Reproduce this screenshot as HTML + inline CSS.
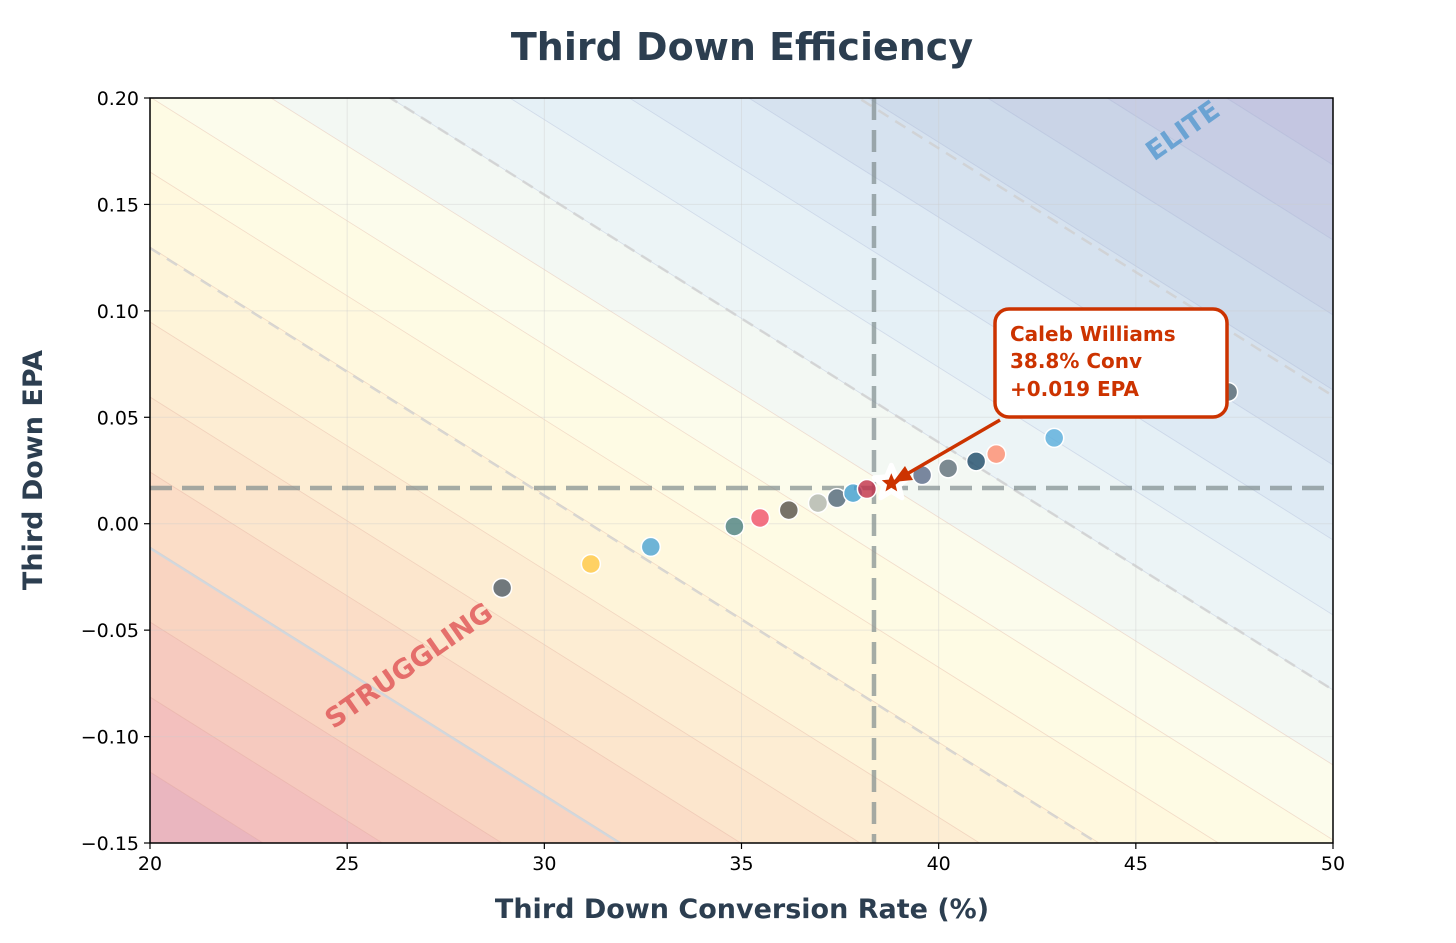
<!DOCTYPE html>
<html><head><meta charset="utf-8"><style>
html,body{margin:0;padding:0;background:#fff;width:1456px;height:943px;overflow:hidden;}
svg{display:block;}
svg text{font-family:"DejaVu Sans","Liberation Sans",sans-serif;}
</style></head><body>
<svg id="chart" width="1456" height="943" viewBox="0 0 1456 943">
<defs><clipPath id="clip"><rect x="150" y="98" width="1183" height="745"/></clipPath></defs>
<g id="bg" clip-path="url(#clip)"></g>
<g id="grid"></g>
<g id="refs"></g>
<g id="pts"></g>
<g id="axes"></g>
<text x="742" y="60" text-anchor="middle" font-size="38" font-weight="bold" fill="#2c3e50">Third Down Efficiency</text>
<text x="742" y="918" text-anchor="middle" font-size="27" font-weight="bold" fill="#2c3e50">Third Down Conversion Rate (%)</text>
<text transform="translate(42,470) rotate(-90)" text-anchor="middle" font-size="27" font-weight="bold" fill="#2c3e50">Third Down EPA</text>
<text transform="translate(1188,138) rotate(-35)" text-anchor="middle" font-size="27" font-weight="bold" fill="#5b9bd0" fill-opacity="0.85">ELITE</text>
<text transform="translate(414,673) rotate(-35)" text-anchor="middle" font-size="27" font-weight="bold" fill="#e05a5a" fill-opacity="0.85">STRUGGLING</text>
<g id="ann">
<line x1="1000" y1="420" x2="900" y2="478" stroke="#cc3300" stroke-width="3.5"/>
<polygon points="893,482 905,466 913,480" fill="#cc3300"/>
<rect x="995" y="309" width="232" height="108" rx="14" fill="#fff" stroke="#cc3300" stroke-width="3.5"/>
<text x="1010" y="341" font-size="20" font-weight="bold" fill="#cc3300">Caleb Williams</text>
<text x="1010" y="368" font-size="20" font-weight="bold" fill="#cc3300">38.8% Conv</text>
<text x="1010" y="396" font-size="20" font-weight="bold" fill="#cc3300">+0.019 EPA</text>
</g>
</svg>
<script>
const convRates=[28.93,31.18,32.7,34.82,35.47,36.2,36.94,37.42,37.83,38.18,39.58,40.24,40.95,41.46,42.93,47.34];
const epaValues=[-0.0302,-0.0189,-0.0109,-0.0013,0.0027,0.0064,0.0097,0.012,0.0144,0.0163,0.0228,0.026,0.0293,0.0327,0.0403,0.0619];
const pointColors=["#4d5a66","#ffc845","#4ba3d3","#4a8080","#f0506a","#555049","#b0b5ae","#4e6478","#3d9cd0","#c0304a","#5a6a88","#5e6e78","#1d4a68","#ff8c6e","#5aaedc","#566870"];
const highlight=[38.8,0.019];
const meanConv=38.36, meanEpa=0.0168;
const xTicks=[20,25,30,35,40,45,50];
const yTicks=[-0.15,-0.10,-0.05,0.00,0.05,0.10,0.15,0.20];
const yTickLabels=["\u22120.15","\u22120.10","\u22120.05","0.00","0.05","0.10","0.15","0.20"];
const X0=150,X1=1333,Y0=98,Y1=843;
const xs=v=>X0+(v-20)/30*(X1-X0);
const ys=v=>Y1-(v+0.15)/0.35*(Y1-Y0);
const NS="http://www.w3.org/2000/svg";
function mk(tag,attrs,parent){const e=document.createElementNS(NS,tag);for(const k in attrs)e.setAttribute(k,attrs[k]);parent.appendChild(e);return e;}
const stops=[[-700,[192,190,222]],[-400,[205,218,234]],[-200,[226,238,246]],[-53,[239,246,246]],[60,[252,252,236]],[150,[255,251,226]],[300,[254,243,216]],[450,[252,228,204]],[600,[249,210,192]],[750,[242,190,190]],[860,[228,176,192]]];
function col(t){for(let i=0;i<stops.length-1;i++){const a=stops[i],b=stops[i+1];if(t<=b[0]){const f=Math.max(0,(t-a[0])/(b[0]-a[0]));return "rgb("+a[1].map((c,j)=>Math.round(c+(b[1][j]-c)*f)).join(",")+")";}}return "rgb(228,176,192)";}
const bg=document.getElementById('bg');
const slope=0.628, dy=slope*(X1-X0);
for(let t=-728;t<900;t+=75){
 const p=mk('polygon',{points:`${X0},${t} ${X1},${t+dy} ${X1},${t+75+dy} ${X0},${t+75}`,fill:col(t+37)},bg);
 
 
 const l=mk('line',{x1:X0,y1:t,x2:X1,y2:t+dy,stroke:(t<0?'#8090c0':'#d08070'),'stroke-opacity':0.25,'stroke-width':0.8},bg);
 
 
}
[-347,-53,248,548].forEach((t,i)=>{
 const l=mk('line',{x1:X0,y1:t,x2:X1,y2:t+dy,stroke:(i==3?'#c8d8e4':'#cfcfcf'),'stroke-width':2.5,'stroke-dasharray':i==3?'none':'12,8','stroke-opacity':0.8},bg);
 
 
});
const grid=document.getElementById('grid');
xTicks.forEach(v=>{const l=mk('line',{x1:xs(v),y1:Y0,x2:xs(v),y2:Y1,stroke:'#ccc','stroke-opacity':0.4,'stroke-width':1},grid);});
yTicks.forEach(v=>{const l=mk('line',{x1:X0,y1:ys(v),x2:X1,y2:ys(v),stroke:'#ccc','stroke-opacity':0.4,'stroke-width':1},grid);});
const refs=document.getElementById('refs');
let r1=mk('line',{x1:xs(meanConv),y1:Y0,x2:xs(meanConv),y2:Y1,stroke:'#7f8c8d','stroke-opacity':0.7,'stroke-width':4.5,'stroke-dasharray':'22,10'},refs);


let r2=mk('line',{x1:X0,y1:ys(meanEpa),x2:X1,y2:ys(meanEpa),stroke:'#7f8c8d','stroke-opacity':0.7,'stroke-width':4.5,'stroke-dasharray':'22,10'},refs);


const pts=document.getElementById('pts');
convRates.forEach((v,i)=>{
 const c=mk('circle',{cx:xs(v),cy:ys(epaValues[i]),r:9.5,fill:pointColors[i],'fill-opacity':0.8,stroke:'#fff','stroke-width':1.5},pts);
 
 
});
function starPts(cx,cy,R,r){let s=[];for(let i=0;i<10;i++){const a=-Math.PI/2+i*Math.PI/5,rad=i%2?r:R;s.push((cx+rad*Math.cos(a)).toFixed(1)+","+(cy+rad*Math.sin(a)).toFixed(1));}return s.join(" ");}
const sx=xs(highlight[0]),sy=ys(highlight[1]);
let sh=mk('polygon',{points:starPts(sx,sy,18,8),fill:'#fff','stroke':'#fff','stroke-width':5,'stroke-linejoin':'round'},pts);


let st=mk('polygon',{points:starPts(sx,sy,10,4.5),fill:'#cc3300'},pts);


const ax=document.getElementById('axes');
let fr=mk('rect',{x:X0,y:Y0,width:X1-X0,height:Y1-Y0,fill:'none',stroke:'#000','stroke-width':1.5},ax);


xTicks.forEach(v=>{
 const t=mk('line',{x1:xs(v),y1:Y1,x2:xs(v),y2:Y1+6,stroke:'#000','stroke-width':1.2},ax);
 
 
 const tx=mk('text',{x:xs(v),y:Y1+27,'text-anchor':'middle','font-size':19,fill:'#000'},ax);
 tx.textContent=v;
 
 
});
yTicks.forEach((v,i)=>{
 const t=mk('line',{x1:X0-6,y1:ys(v),x2:X0,y2:ys(v),stroke:'#000','stroke-width':1.2},ax);
 
 
 const tx=mk('text',{x:X0-11,y:ys(v)+7,'text-anchor':'end','font-size':19,fill:'#000'},ax);
 tx.textContent=yTickLabels[i];
 
 
});
</script>
</body></html>
